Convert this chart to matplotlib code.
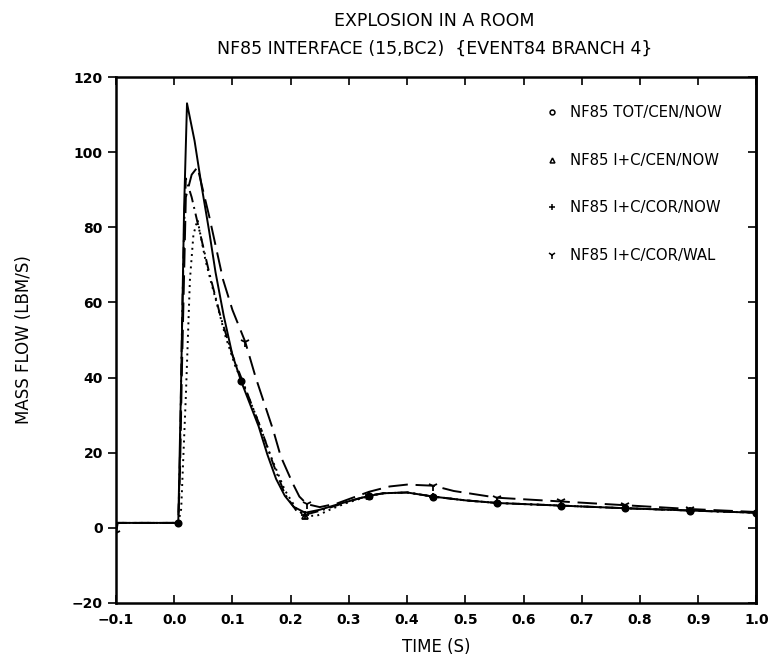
import numpy as np
import matplotlib
matplotlib.use("Agg")
import matplotlib.pyplot as plt

plt.rcParams['font.family'] = ['DejaVu Sans']

# Mass flow through the NF85 interface after the explosion
tot_cen_now_t = [-0.1, 0.007, 0.012, 0.017, 0.022, 0.035, 0.047, 0.06, 0.071, 0.085, 0.1,
                 0.115, 0.13, 0.145, 0.16, 0.175, 0.19, 0.205, 0.225, 0.25, 0.28, 0.31,
                 0.335, 0.36, 0.40, 0.445, 0.5, 0.555, 0.665, 0.775, 0.885, 1.0]
tot_cen_now_m = [1.3, 1.3, 40, 85, 113, 103, 91, 79, 68, 56.5, 46,
                 39, 33, 27, 19.5, 13, 8.5, 5.6, 4.0, 4.8, 6.2, 7.5,
                 8.5, 9.2, 9.4, 8.3, 7.3, 6.6, 5.9, 5.2, 4.6, 4.0]

ic_cen_now_t = [-0.1, 0.007, 0.012, 0.02, 0.027, 0.033, 0.04, 0.054, 0.064, 0.071, 0.088,
                0.105, 0.115, 0.127, 0.144, 0.166, 0.19, 0.21, 0.225, 0.245, 0.27, 0.296,
                0.335, 0.36, 0.40, 0.445, 0.5, 0.555, 0.665, 0.775, 0.885, 1.0]
ic_cen_now_m = [1.3, 1.3, 5, 35, 66, 78, 82, 71, 65, 61, 51,
                43, 39.5, 35, 28.5, 19, 10, 5, 3.2, 3.2, 5, 6.6,
                8.5, 9.2, 9.4, 8.3, 7.3, 6.6, 5.9, 5.2, 4.6, 4.0]

ic_cor_now_t = [-0.1, 0.007, 0.01, 0.013, 0.017, 0.02, 0.03, 0.045, 0.06, 0.08, 0.1,
                0.115, 0.13, 0.15, 0.17, 0.19, 0.21, 0.225, 0.25, 0.28, 0.31,
                0.335, 0.36, 0.40, 0.445, 0.5, 0.555, 0.665, 0.775, 0.885, 1.0]
ic_cor_now_m = [1.3, 1.3, 20, 50, 80, 93, 88, 78, 68, 56, 46,
                40, 34, 26, 17, 9, 4.5, 3.5, 4.5, 6, 7.5,
                8.6, 9.2, 9.4, 8.3, 7.3, 6.6, 5.9, 5.2, 4.6, 4.0]

ic_cor_wal_t = [-0.1, -0.097, 0.007, 0.01, 0.013, 0.02, 0.03, 0.04, 0.06, 0.084, 0.1,
                0.122, 0.14, 0.155, 0.17, 0.183, 0.203, 0.215, 0.228, 0.25, 0.28, 0.31,
                0.335, 0.37, 0.40, 0.445, 0.48, 0.555, 0.665, 0.775, 0.885, 1.0]
ic_cor_wal_m = [-1.5, 1.3, 1.3, 15, 40, 88, 94, 96, 83, 66, 58,
                49.5, 40, 33, 26, 19, 12, 8.3, 6.3, 5.5, 6.5, 8.2,
                9.6, 11, 11.5, 11.2, 9.8, 8, 7, 6, 5, 4.2]

# Symbol stations along each curve
tot_cen_now_marks = [0.007, 0.115, 0.335, 0.445, 0.555, 0.665, 0.775, 0.885, 1.0]
ic_cen_now_marks = [0.225, 0.335]
ic_cor_now_marks = [0.225, 0.335, 0.445, 0.555, 0.665, 0.775, 0.885]
ic_cor_wal_marks = [-0.1, 0.122, 0.228, 0.445, 0.555, 0.665, 0.775, 0.885]

labels = ["NF85 TOT/CEN/NOW", "NF85 I+C/CEN/NOW", "NF85 I+C/COR/NOW", "NF85 I+C/COR/WAL"]

x_ticks = [-0.1, 0.0, 0.1, 0.2, 0.3, 0.4, 0.5, 0.6, 0.7, 0.8, 0.9, 1.0]
y_ticks = [-20, 0, 20, 40, 60, 80, 100, 120]

fig = plt.figure(figsize=(7.68, 6.64), dpi=100)
ax = fig.add_axes([0.151, 0.092, 0.834, 0.792])

series = [
    (tot_cen_now_t, tot_cen_now_m, tot_cen_now_marks, '-', 'o', 4.5),
    (ic_cen_now_t, ic_cen_now_m, ic_cen_now_marks, (0, (1, 2.2)), '^', 4.5),
    (ic_cor_now_t, ic_cor_now_m, ic_cor_now_marks, (0, (6, 2.5, 1, 2.5)), '+', 6),
    (ic_cor_wal_t, ic_cor_wal_m, ic_cor_wal_marks, (0, (10, 4)), '1', 7),
]

for (t, m, marks, ls, mk, ms), lab in zip(series, labels):
    idx = [i for i, v in enumerate(t) if any(abs(v - s) < 1e-9 for s in marks)]
    ax.plot(t, m, color='black', lw=1.4, ls=ls)
    ax.plot([t[i] for i in idx], [m[i] for i in idx], ls='none', marker=mk,
            ms=ms, color='black', mfc='black' if mk == 'o' else 'none', mew=1.3)
    ax.plot([], [], ls='none', marker=mk, ms=ms - 1, color='black',
            mfc='none', mew=1.1, label=lab)

ax.set_xlim(-0.1, 1.0)
ax.set_ylim(-20, 120)
ax.set_xticks(x_ticks)
ax.set_xticklabels(["\u22120.1"] + [f"{v:.1f}" for v in x_ticks[1:]])
ax.set_yticks(y_ticks)
ax.set_yticklabels([f"{v}" if v >= 0 else f"\u2212{abs(v)}" for v in y_ticks])

ax.tick_params(axis='both', labelsize=10, width=1.2, length=6, color='black')
ax.tick_params(axis='x', direction='in', top=True, pad=7)
ax.tick_params(axis='y', direction='out', right=False)
for lbl in ax.get_xticklabels() + ax.get_yticklabels():
    lbl.set_fontweight('bold')
for sp in ax.spines.values():
    sp.set_linewidth(1.8)

# Inward ticks on the right-hand frame
right = ax.secondary_yaxis('right')
right.set_yticks(y_ticks)
right.tick_params(direction='in', length=6, width=1.2, labelright=False)
right.spines['right'].set_linewidth(1.8)

ax.set_xlabel("TIME (S)", fontsize=12, labelpad=8)
ax.set_ylabel("MASS FLOW (LBM/S)", fontsize=12, labelpad=28)

fig.text(0.566, 0.968, "EXPLOSION IN A ROOM", ha='center', va='center', fontsize=12.5)
fig.text(0.566, 0.926, "NF85 INTERFACE (15,BC2)  {EVENT84 BRANCH 4}",
         ha='center', va='center', fontsize=12.5)

ax.legend(loc='upper left', bbox_to_anchor=(0.665, 0.958), frameon=False,
          fontsize=10.7, labelspacing=2.2, handlelength=0.6, handletextpad=0.9,
          borderaxespad=0.0)

fig.savefig("out.png", dpi=100)
